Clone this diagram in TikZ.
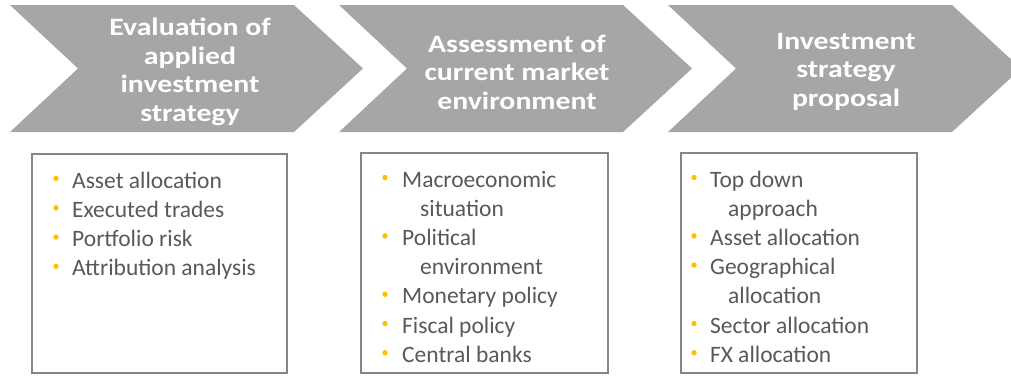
\documentclass[tikz,border=0pt]{standalone}
\usepackage{fontspec}
\setmainfont{Carlito}
\newfontfamily\headfont[FakeStretch=1.19]{Carlito}
\definecolor{chevgray}{HTML}{A6A6A6}
\definecolor{boxline}{HTML}{858585}
\definecolor{itemtext}{HTML}{595959}
\definecolor{dotcol}{HTML}{FFC000}
\tikzset{
	chevron/.style = {fill = chevgray},
	headtext/.style = {text = white, align = center, inner sep = 0pt,
		font = \headfont\bfseries\fontsize{25}{28.5}\selectfont},
	listbox/.style = {draw = boxline, line width = 1.5pt, fill = white},
	itemline/.style = {anchor = base west, inner sep = 0pt, text = itemtext,
		font = \fontsize{23.5}{29}\selectfont},
	itemdot/.style = {fill = dotcol}
}
\begin{document}
\begin{tikzpicture}[x = 1pt, y = -1pt]
	\useasboundingbox (0,0) rectangle (1011,375);
	\clip (0,0) rectangle (1011,375);
	% process chevrons
	\foreach \x in {0,329,658}{
		\fill [chevron] (\x+10,5) -- (\x+294,5) -- (\x+363,68.5) -- (\x+294,132) -- (\x+10,132) -- (\x+78,68.5) -- cycle;
	}
	\node [headtext] (evalhead) at (190,72) {Evaluation of\\applied\\investment\\strategy};
	\node [headtext] (assesshead) at (517,72) {Assessment of\\current market\\environment};
	\node [headtext] (proposalhead) at (846,71.5) {Investment\\strategy\\proposal};
	% boxes
	\draw [listbox] (32,154) rectangle (287,373);
	\draw [listbox] (361,153) rectangle (608,373);
	\draw [listbox] (681,153) rectangle (917,373);
	% first list
	\foreach \y in {188,217.3,246.6,275.9}{
		\fill [itemdot] (56,\y-9.5) circle (2.7);
	}
	\node [itemline] (evalA) at (72,188) {Asset allocation};
	\node [itemline] (evalB) at (72,217.3) {Executed trades};
	\node [itemline] (evalC) at (72,246.6) {Portfolio risk};
	\node [itemline] (evalD) at (72,275.9) {Attribution analysis};
	% second list
	\foreach \y in {187,245.4,303.8,333,362.2}{
		\fill [itemdot] (385,\y-9.5) circle (2.7);
	}
	\node [itemline] (assessA) at (402,187) {Macroeconomic};
	\node [itemline] (assessAb) at (420,216.2) {situation};
	\node [itemline] (assessB) at (402,245.4) {Political};
	\node [itemline] (assessBb) at (420,274.6) {environment};
	\node [itemline] (assessC) at (402,303.8) {Monetary policy};
	\node [itemline] (assessD) at (402,333) {Fiscal policy};
	\node [itemline] (assessE) at (402,362.2) {Central banks};
	% third list
	\foreach \y in {187,245.4,274.6,333,362.2}{
		\fill [itemdot] (694,\y-9.5) circle (2.7);
	}
	\node [itemline] (propA) at (710,187) {Top down};
	\node [itemline] (propAb) at (728,216.2) {approach};
	\node [itemline] (propB) at (710,245.4) {Asset allocation};
	\node [itemline] (propC) at (710,274.6) {Geographical};
	\node [itemline] (propCb) at (728,303.8) {allocation};
	\node [itemline] (propD) at (710,333) {Sector allocation};
	\node [itemline] (propE) at (710,362.2) {FX allocation};
\end{tikzpicture}
\end{document}
